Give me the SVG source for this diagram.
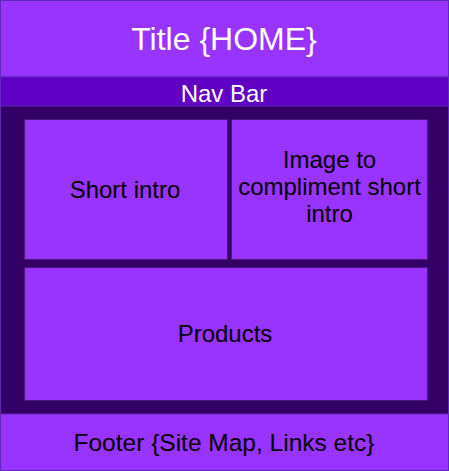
<svg xmlns="http://www.w3.org/2000/svg" width="449" height="471" viewBox="0 0 449 471">
  <style>
    .band { stroke: #5b2bb5; stroke-width: 1; }
    .box { fill: #9933ff; stroke: #4a1780; stroke-width: 1; }
    text { font-family: "Liberation Sans", Arial, sans-serif; text-anchor: middle; }
    .light { fill: #ffffff; }
    .dark { fill: #000000; font-size: 24px; }
  </style>
  <!-- page background / content area -->
  <rect x="0.5" y="0.5" width="448" height="470" fill="#330066" stroke="#5b2bb5"/>

  <g id="title">
    <rect class="band" x="0.5" y="0.5" width="448" height="76.5" fill="#9933ff"/>
    <text class="light" x="224" y="50" font-size="32">Title {HOME}</text>
  </g>

  <g id="navbar">
    <rect class="band" x="0.5" y="77" width="448" height="29" fill="#6000c2"/>
    <text class="light" x="224" y="101.5" font-size="24">Nav Bar</text>
  </g>

  <g id="short-intro">
    <rect class="box" x="24.5" y="119.5" width="203" height="140"/>
    <text class="dark" x="125" y="198">Short intro</text>
  </g>

  <g id="image">
    <rect class="box" x="231.5" y="119.5" width="196" height="140"/>
    <text class="dark" x="329.5" y="168">Image to</text>
    <text class="dark" x="329.5" y="195">compliment short</text>
    <text class="dark" x="329.5" y="222">intro</text>
  </g>

  <g id="products">
    <rect class="box" x="24.5" y="267.5" width="403" height="133"/>
    <text class="dark" x="225" y="342">Products</text>
  </g>

  <g id="footer">
    <rect class="band" x="0.5" y="414" width="448" height="56.5" fill="#9933ff"/>
    <text class="dark" x="224" y="451" font-size="24.5" style="font-size:24.5px">Footer {Site Map, Links etc}</text>
  </g>

  <g id="connectors"></g>
</svg>
